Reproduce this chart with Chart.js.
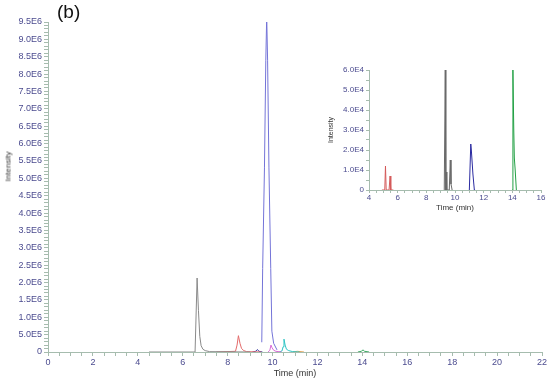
<!DOCTYPE html>
<html>
<head>
<meta charset="utf-8">
<script src="https://cdn.jsdelivr.net/npm/chart.js@4"></script>
<style>
  body { margin: 0; background: #fff; }
  #wrap { position: relative; width: 550px; height: 380px; font-family: "Liberation Sans", Arial, sans-serif; }
  #mainChart { position: absolute; left: 0; top: 0; }
  #insetChart { position: absolute; left: 322px; top: 55px; }
  #panel { position: absolute; left: 57px; top: 1px; font-size: 19px; color: #111; }
  #mainYTitle { position: absolute; left: -16px; top: 162px; width: 48px; text-align: center;
    font-size: 8px; color: #333; transform: rotate(-90deg); }
</style>
</head>
<body>
<div id="wrap">
  <canvas id="mainChart" width="550" height="380"></canvas>
  <canvas id="insetChart" width="226" height="160"></canvas>
  <div id="panel">(b)</div>
  <div id="mainYTitle">Intensity</div>
</div>
<script>
// Main chromatogram (time in min, intensity in counts)
const grayT = [4.5, 6.55, 6.64, 6.70, 6.76, 6.82, 6.90, 7.00, 7.20, 9.0];
const grayY = [0, 0, 2.13e6, 1.2e6, 0.45e6, 0.18e6, 0.08e6, 0.04e6, 0.01e6, 0];
const redT = [7.5, 8.35, 8.42, 8.48, 8.55, 8.62, 8.72, 8.85, 9.5];
const redY = [0, 0.02e6, 0.2e6, 0.47e6, 0.25e6, 0.1e6, 0.04e6, 0.01e6, 0];
const blueT = [9.52, 9.56, 9.64, 9.70, 9.74, 9.78, 9.84, 9.92, 9.97, 10.05, 10.2];
const blueY = [0.28e6, 2.4e6, 5.3e6, 8.4e6, 9.65e6, 8.4e6, 5.3e6, 2.4e6, 0.6e6, 0.25e6, 0.06e6];
const navyT = [9.1, 9.25, 9.32, 9.4, 9.55];
const navyY = [0, 0.02e6, 0.07e6, 0.02e6, 0];
const pinkT = [9.8, 9.88, 9.93, 9.98, 10.05, 10.15, 10.4];
const pinkY = [0, 0.05e6, 0.2e6, 0.12e6, 0.05e6, 0.02e6, 0];
const cyanT = [10.3, 10.42, 10.47, 10.51, 10.56, 10.62, 10.72, 10.9, 11.2];
const cyanY = [0, 0.03e6, 0.15e6, 0.37e6, 0.2e6, 0.08e6, 0.04e6, 0.01e6, 0];
const orangeT = [10.9, 11.1, 11.4];
const orangeY = [0, 0.02e6, 0];
const greenT = [13.8, 13.95, 14.03, 14.1, 14.3];
const greenY = [0, 0.02e6, 0.06e6, 0.02e6, 0];

// Inset (zoom of the low peaks)
const inRedT = [4.9, 5.1, 5.15, 5.2, 5.4, 5.47, 5.52, 5.7];
const inRedY = [0, 0, 1.2e4, 0, 0, 0.7e4, 0, 0];
const inGrayT = [9.25, 9.32, 9.36, 9.40, 9.43, 9.47, 9.6, 9.67, 9.72, 9.8];
const inGrayY = [0, 6.0e4, 0, 0.9e4, 0, 0, 0, 1.5e4, 0.3e4, 0];
const inBlueT = [11.0, 11.1, 11.14, 11.25, 11.35, 11.4];
const inBlueY = [0, 2.3e4, 2.0e4, 0.8e4, 0, 0];
const inGreenT = [13.98, 14.04, 14.1, 14.14, 14.2, 14.28];
const inGreenY = [0, 6.0e4, 3.0e4, 1.6e4, 1.0e4, 0];

const axisColor = '#a6bcae';
const tickText = '#4b4b8f';

function pts(t, y) {
    return t.map((v, i) => ({ x: v, y: y[i] }));
}

function line(t, y, color) {
    return { data: pts(t, y), borderColor: color, borderWidth: 1, pointRadius: 0, tension: 0, fill: false };
}

function sci(v) {
    if (v === 0) return '0';
    return v.toExponential(1).toUpperCase().replace('+', '');
}

// Main chart
new Chart(document.getElementById('mainChart'), {
    type: 'line',
    data: {
        datasets: [
            line(grayT, grayY, '#8a8a8a'),
            line(redT, redY, '#e36a6a'),
            line(navyT, navyY, '#3a3aa0'),
            line(pinkT, pinkY, '#d86ad8'),
            line(cyanT, cyanY, '#2ec4c4'),
            line(orangeT, orangeY, '#e0a050'),
            line(greenT, greenY, '#3aa860'),
            line(blueT, blueY, '#7474d8')
        ]
    },
    options: {
        responsive: false,
        animation: false,
        devicePixelRatio: 1,
        layout: { padding: { left: 0, right: 8, top: 22, bottom: 0 } },
        plugins: { legend: { display: false }, tooltip: { enabled: false } },
        scales: {
            x: {
                type: 'linear',
                min: 0,
                max: 22,
                afterFit: function (scale) { scale.height = 28; },
                ticks: {
                    stepSize: 0.5,
                    autoSkip: false,
                    maxRotation: 0,
                    padding: 1,
                    color: tickText,
                    font: { family: 'Liberation Sans', size: 9 },
                    callback: v => (v % 2 === 0 ? String(v) : '')
                },
                grid: { drawOnChartArea: false, tickLength: 4, color: axisColor },
                border: { color: axisColor },
                title: {
                    display: true,
                    text: 'Time (min)',
                    color: '#333',
                    font: { family: 'Liberation Sans', size: 9 },
                    padding: { top: 0, bottom: 1 }
                }
            },
            y: {
                min: 0,
                max: 9.5e6,
                afterFit: function (scale) { scale.width = 48; },
                ticks: {
                    stepSize: 1e5,
                    autoSkip: false,
                    padding: 2,
                    color: tickText,
                    font: { family: 'Liberation Sans', size: 9 },
                    callback: v => (Math.round(v / 1e5) % 5 === 0 ? sci(v) : '')
                },
                grid: { drawOnChartArea: false, tickLength: 4, color: axisColor },
                border: { color: axisColor }
            }
        }
    }
});

// Inset chart
new Chart(document.getElementById('insetChart'), {
    type: 'line',
    data: {
        datasets: [
            line(inRedT, inRedY, '#d45a5a'),
            line(inGrayT, inGrayY, '#6a6a6a'),
            line(inBlueT, inBlueY, '#2a2aa0'),
            line(inGreenT, inGreenY, '#22a044')
        ]
    },
    options: {
        responsive: false,
        animation: false,
        devicePixelRatio: 1,
        layout: { padding: { left: 0, right: 7, top: 15, bottom: 0 } },
        plugins: { legend: { display: false }, tooltip: { enabled: false } },
        scales: {
            x: {
                type: 'linear',
                min: 4,
                max: 16,
                afterFit: function (scale) { scale.height = 25; },
                ticks: {
                    stepSize: 0.5,
                    autoSkip: false,
                    maxRotation: 0,
                    padding: 0,
                    color: tickText,
                    font: { family: 'Liberation Sans', size: 8 },
                    callback: v => (v % 2 === 0 ? String(v) : '')
                },
                grid: { drawOnChartArea: false, tickLength: 3, color: axisColor },
                border: { color: axisColor },
                title: {
                    display: true,
                    text: 'Time (min)',
                    color: '#333',
                    font: { family: 'Liberation Sans', size: 8 },
                    padding: { top: 0, bottom: 2 }
                }
            },
            y: {
                min: 0,
                max: 6e4,
                afterFit: function (scale) { scale.width = 47; },
                ticks: {
                    stepSize: 5e3,
                    autoSkip: false,
                    padding: 2,
                    color: tickText,
                    font: { family: 'Liberation Sans', size: 8 },
                    callback: v => (Math.round(v / 5e3) % 2 === 0 ? sci(v) : '')
                },
                grid: { drawOnChartArea: false, tickLength: 3, color: axisColor },
                border: { color: axisColor },
                title: {
                    display: true,
                    text: 'Intensity',
                    color: '#333',
                    font: { family: 'Liberation Sans', size: 7 },
                    padding: { top: 5, bottom: 0 }
                }
            }
        }
    }
});
</script>
</body>
</html>
